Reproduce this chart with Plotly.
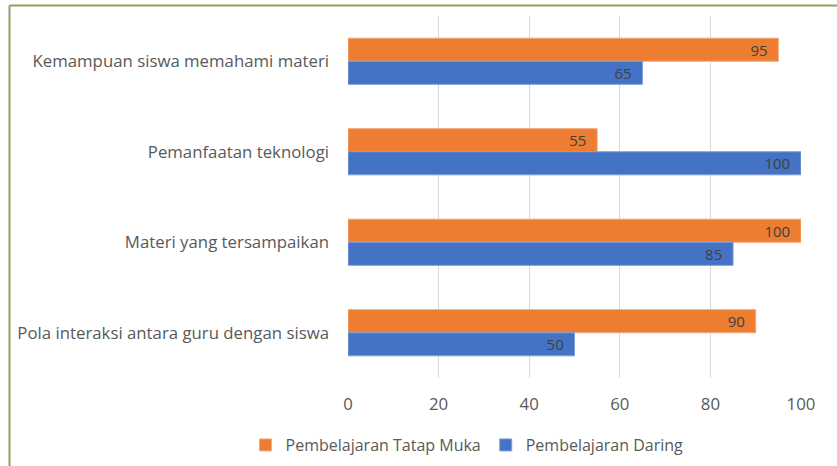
import plotly.graph_objects as go

categories = ["Kemampuan siswa memahami materi", "Pemanfaatan teknologi",
              "Materi yang tersampaikan", "Pola interaksi antara guru dengan siswa"]
tatap_muka = [95, 55, 100, 90]
daring = [65, 100, 85, 50]
x_ticks = [0, 20, 40, 60, 80, 100]

W, H = 837, 466
L, R, T, B = 348, 36, 16, 88
FONT = "Open Sans"
FS = 16.8

fig = go.Figure()
fig.add_trace(go.Bar(
    y=categories, x=tatap_muka, orientation="h", name="Pembelajaran Tatap Muka",
    marker=dict(color="#ED7D31", line=dict(color="#F4A97A", width=1)),
    texttemplate="%{x}  ", textposition="inside", insidetextanchor="end",
    textangle=0, constraintext="none",
    textfont=dict(color="#404040", size=15, family=FONT),
))
fig.add_trace(go.Bar(
    y=categories, x=daring, orientation="h", name="Pembelajaran Daring",
    marker=dict(color="#4472C4", line=dict(color="#7F9FD8", width=1)),
    texttemplate="%{x}  ", textposition="inside", insidetextanchor="end",
    textangle=0, constraintext="none",
    textfont=dict(color="#404040", size=15, family=FONT),
))

pw = W - L - R
ph = H - T - B
def px_x(p):
    return (p - L) / pw
def px_y(p):
    return (H - B - p) / ph

fig.update_layout(
    width=W, height=H,
    margin=dict(l=L, r=R, t=T, b=B, pad=0, autoexpand=False),
    barmode="group", bargap=0.49, bargroupgap=0,
    plot_bgcolor="white", paper_bgcolor="white",
    font=dict(family=FONT, size=FS, color="#595959"),
    showlegend=True,
    legend=dict(orientation="h", xref="container", yref="container",
                x=0.558, xanchor="center", y=0.045, yanchor="middle",
                font=dict(size=16, color="#595959"), traceorder="normal",
                itemwidth=30),
    xaxis=dict(range=[0, 100], tickvals=x_ticks, showgrid=True, gridcolor="#D9D9D9",
               gridwidth=1, zeroline=False, showline=False, ticks="",
               ticklabelstandoff=14, fixedrange=True),
    yaxis=dict(autorange="reversed", showgrid=False, showline=False, ticks="",
               ticklabelstandoff=18, fixedrange=True),
    shapes=[
        dict(type="line", xref="paper", yref="paper",
             x0=px_x(9.5), x1=px_x(9.5), y0=px_y(470), y1=px_y(5.5),
             line=dict(color="#A09868", width=2)),
        dict(type="line", xref="paper", yref="paper",
             x0=px_x(9.5), x1=px_x(840), y0=px_y(5.5), y1=px_y(5.5),
             line=dict(color="#A09868", width=2)),
    ],
)

fig.write_html("out.html", config={"displayModeBar": False},
               post_script="document.body.style.margin='0';")
